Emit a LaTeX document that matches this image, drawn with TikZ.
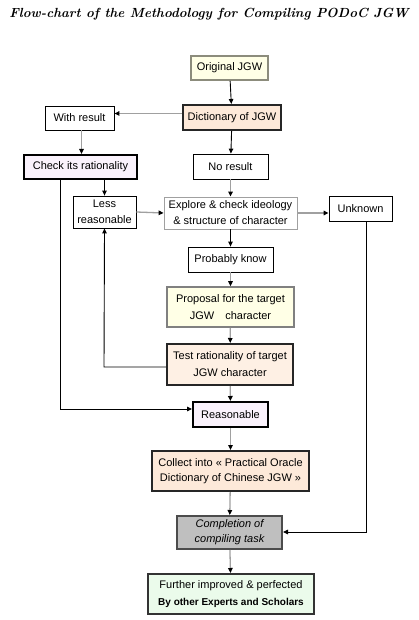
\documentclass[tikz,border=0pt]{standalone}
\usepackage{fontspec}
\setmainfont{Liberation Sans}
\usepackage{tikz}
\usetikzlibrary{arrows.meta, positioning, calc}

\definecolor{cream}{HTML}{FFFFE6}
\definecolor{peach}{HTML}{FDE9D9}
\definecolor{lilac}{HTML}{FAF2FC}
\definecolor{mint}{HTML}{EBFBEB}
\definecolor{olivegray}{HTML}{8C8C7C}
\definecolor{linegray}{HTML}{A0A0A0}

\tikzset{
  box/.style={draw, line width=0.8pt, fill=white, align=center, inner sep=1pt,
    font=\fontsize{11}{15}\selectfont},
  heavybox/.style={box, line width=2pt, draw=black!85},
  tip/.style={-{Triangle[length=5pt, width=4.5pt, color=black]}},
  darkarrow/.style={tip, line width=0.9pt, black},
  grayarrow/.style={tip, line width=1.3pt, linegray}
}

\begin{document}
\begin{tikzpicture}[x=1pt, y=-1pt]
  \useasboundingbox (0,0) rectangle (419,620);
  % Methodology for compiling the dictionary
  \node (title) at (209,14) {\fontsize{13.2}{15}\selectfont\fontspec{Latin Modern Roman}\bfseries\itshape Flow-chart of the Methodology for Compiling PODoC JGW};

  \node[box, draw=olivegray, line width=1.8pt, fill=cream, minimum width=77pt, minimum height=24pt] (orig) at (229.5,68) {Original JGW};
  \node[heavybox, fill=peach, minimum width=98pt, minimum height=25pt] (dict) at (232,117.5) {Dictionary of JGW};
  \node[box, minimum width=69pt, minimum height=24pt] (withres) at (79.5,118) {With result};
  \node[heavybox, draw=black, fill=lilac, minimum width=113pt, minimum height=24pt] (check) at (80.5,167) {Check its rationality};
  \node[box, minimum width=75pt, minimum height=25pt] (nores) at (230.5,166.5) {No result};
  \node[box, minimum width=63pt, minimum height=32pt, font=\fontsize{11}{16}\selectfont] (less) at (104.5,212) {Less\\reasonable};
  \node[box, draw=linegray, minimum width=133pt, minimum height=32pt, font=\fontsize{11}{16}\selectfont] (explore) at (230.5,213) {Explore \& check ideology\\\& structure of character};
  \node[box, minimum width=63pt, minimum height=25pt] (unknown) at (360.5,208.5) {Unknown};
  \node[box, minimum width=85pt, minimum height=25pt] (probably) at (230.5,259.5) {Probably know};
  \node[box, draw=gray, line width=1.6pt, fill=cream, minimum width=127pt, minimum height=40pt, font=\fontsize{11}{17}\selectfont] (proposal) at (230.5,307) {Proposal for the target\\JGW\quad character};
  \node[heavybox, fill=peach!70, minimum width=126pt, minimum height=41pt, font=\fontsize{11}{17}\selectfont] (test) at (230,364.5) {Test rationality of target\\JGW character};
  \node[heavybox, draw=black, fill=lilac, minimum width=75pt, minimum height=25pt] (reasonable) at (230.5,414.5) {Reasonable};
  \node[heavybox, fill=peach, minimum width=157pt, minimum height=40pt, font=\fontsize{11}{15}\selectfont] (collect) at (230.5,471) {Collect into « Practical Oracle\\Dictionary of Chinese JGW »};
  \node[heavybox, draw=black!70, fill=black!25, minimum width=105pt, minimum height=33pt, font=\fontsize{11}{15}\selectfont\itshape] (completion) at (229.5,532.5) {Completion of\\compiling task};
  \node[heavybox, draw=black!80, fill=mint, minimum width=166pt, minimum height=40pt, font=\fontsize{11}{17}\selectfont] (further) at (231,594) {Further improved \& perfected\\{\fontsize{10}{17}\selectfont\bfseries By other Experts and Scholars}};

  \coordinate (backup) at (104,367);
  \coordinate (sidejoin) at (60,409);
  \coordinate (unkjoin) at (366,532);

  \draw[darkarrow] (orig) -- (dict);
  \draw[grayarrow] ([yshift=4pt]dict.west) -- ([yshift=4pt]dict.west -| withres.east);
  \draw[grayarrow] ([xshift=2pt]withres.south) -- ([xshift=2pt]withres.south |- check.north);
  \draw[darkarrow] (check.south -| less) -- (less.north);
  \draw[darkarrow] (dict) -- (nores);
  \draw[grayarrow] (nores) -- (explore);
  \draw[grayarrow] (less.east) -- (explore.west);
  \draw[grayarrow] (explore.east) -- (explore.east -| unknown.west);
  \draw[darkarrow] (explore) -- (probably);
  \draw[grayarrow] (probably) -- (proposal);
  \draw[grayarrow] (proposal) -- (test);
  \draw[grayarrow] (test) -- (reasonable);
  \draw[grayarrow] (reasonable) -- (collect);
  \draw[grayarrow] (collect) -- (completion);
  \draw[grayarrow] (completion) -- (further);

  \draw[darkarrow] (test.west |- backup) -- (backup) -- (less.south);
  \draw[darkarrow] (check.south -| sidejoin) -- (sidejoin) -- (sidejoin -| reasonable.west);
  \draw[darkarrow] (unknown.south -| unkjoin) -- (unkjoin) -- (unkjoin -| completion.east);
\end{tikzpicture}
\end{document}
